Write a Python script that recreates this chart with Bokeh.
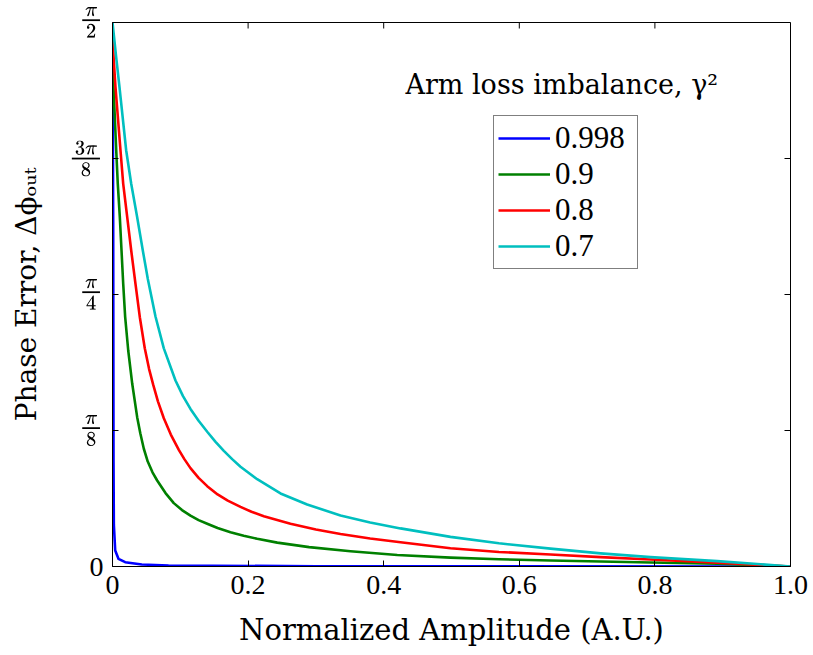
import math
from bokeh.plotting import figure
from bokeh.models import Range1d, FixedTicker, Label, TeX
from bokeh.embed import file_html
from bokeh.resources import INLINE

PI = math.pi

# ---- data (x: normalized amplitude, y: phase error in rad) ----
amp_0998 = [0.0, 0.001, 0.0015, 0.002, 0.004, 0.0088, 0.0187, 0.0432, 0.0826, 0.3, 1.0]
phase_0998 = [1.5708, 1.0, 0.30, 0.12, 0.0462, 0.0222, 0.0124, 0.0058, 0.0029, 0.0008, 0.0]

amp_09 = [0.0, 0.0015, 0.0055, 0.0078, 0.0108, 0.0133, 0.0158, 0.0187, 0.0232, 0.0291,
          0.0364, 0.041, 0.0462, 0.052, 0.059, 0.0659, 0.0782, 0.0904, 0.1025, 0.115,
          0.127, 0.1397, 0.155, 0.174, 0.1935, 0.2134, 0.243, 0.29, 0.351, 0.42,
          0.4985, 0.57, 0.646, 0.72, 0.7935, 0.892, 1.0]
phase_09 = [1.55, 1.384, 1.2012, 1.105, 1.0087, 0.9125, 0.8162, 0.7199, 0.6237, 0.5275,
            0.4312, 0.385, 0.340, 0.303, 0.272, 0.2483, 0.212, 0.183, 0.163, 0.147,
            0.134, 0.1233, 0.111, 0.099, 0.089, 0.080, 0.069, 0.056, 0.044, 0.033,
            0.0255, 0.021, 0.0173, 0.0145, 0.0116, 0.0078, 0.0]

amp_08 = [0.0, 0.0044, 0.0118, 0.0158, 0.0217, 0.0276, 0.0339, 0.0403, 0.0476, 0.054,
          0.060, 0.067, 0.0757, 0.086, 0.0978, 0.106, 0.115, 0.127, 0.1397, 0.155,
          0.17, 0.1888, 0.205, 0.2232, 0.2625, 0.30, 0.3363, 0.38, 0.4248, 0.4985,
          0.57, 0.646, 0.72, 0.7935, 0.892, 1.0]
phase_08 = [1.519, 1.384, 1.2012, 1.105, 1.0087, 0.9125, 0.8162, 0.7199, 0.630, 0.57,
            0.525, 0.477, 0.428, 0.381, 0.337, 0.310, 0.284, 0.256, 0.232, 0.208,
            0.190, 0.172, 0.158, 0.145, 0.1235, 0.107, 0.094, 0.081, 0.070, 0.0525,
            0.042, 0.0347, 0.027, 0.0202, 0.0107, 0.0]

amp_07 = [0.0, 0.005, 0.0103, 0.0202, 0.0276, 0.0364, 0.0447, 0.0521, 0.0634, 0.0757,
          0.0929, 0.104, 0.115, 0.127, 0.1397, 0.152, 0.1642, 0.1765, 0.1888, 0.2134,
          0.2478, 0.2871, 0.3363, 0.38, 0.4248, 0.4985, 0.57, 0.646, 0.72, 0.7935,
          0.892, 1.0]
phase_07 = [1.5708, 1.478, 1.384, 1.2012, 1.105, 1.0087, 0.9125, 0.830, 0.722, 0.630,
            0.537, 0.492, 0.455, 0.421, 0.389, 0.360, 0.334, 0.310, 0.288, 0.252,
            0.211, 0.179, 0.1473, 0.127, 0.110, 0.0855, 0.067, 0.0515, 0.038, 0.027,
            0.0155, 0.0]

series_labels = ["0.998", "0.9", "0.8", "0.7"]
series_colors = ["#0000ff", "#008000", "#ff0000", "#00bfbf"]

x_ticks = [0.0, 0.2, 0.4, 0.6, 0.8, 1.0]
x_tick_labels = ["0", "0.2", "0.4", "0.6", "0.8", "1.0"]
y_ticks = [0.0, PI / 8, PI / 4, 3 * PI / 8, PI / 2]
y_tick_tex = [None, r"\tfrac{\pi}{8}", r"\tfrac{\pi}{4}", r"\tfrac{3\pi}{8}", r"\tfrac{\pi}{2}"]

title_text = "Arm loss imbalance, γ²"
x_label = "Normalized Amplitude (A.U.)"
y_label = "Phase Error, Δϕₒᵤₜ"

TEXT_FONT = "DejaVu Serif"
NUM_FONT = "Liberation Serif"

X0, X1 = 0.0, 1.0
Y0, Y1 = 0.0, PI / 2
FRAME_W, FRAME_H = 678, 544
TICK_PX = 6

p = figure(width=813, height=655, output_backend="svg", toolbar_location=None,
           x_range=Range1d(X0, X1), y_range=Range1d(Y0, Y1),
           min_border_left=112, min_border_right=23, min_border_top=22, min_border_bottom=89)
p.background_fill_color = "white"
p.border_fill_color = "white"
p.outline_line_color = "black"
p.outline_line_width = 1
p.xgrid.visible = False
p.ygrid.visible = False

xs = [amp_0998, amp_09, amp_08, amp_07]
ys = [phase_0998, phase_09, phase_08, phase_07]
for xv, yv, lab, col in zip(xs, ys, series_labels, series_colors):
    p.line(xv, yv, line_color=col, line_width=2.6, line_join="round", legend_label=lab)

# mirrored inward ticks on the top and right edges, derived from the tick arrays
dy = TICK_PX * (Y1 - Y0) / FRAME_H
dx = TICK_PX * (X1 - X0) / FRAME_W
p.segment(x0=x_ticks, y0=[Y1] * len(x_ticks), x1=x_ticks, y1=[Y1 - dy] * len(x_ticks),
          line_color="black", line_width=1)
p.segment(x0=[X1] * len(y_ticks), y0=y_ticks, x1=[X1 - dx] * len(y_ticks), y1=y_ticks,
          line_color="black", line_width=1)

# axes
xax = p.xaxis[0]
xax.ticker = FixedTicker(ticks=x_ticks)
xax.major_label_overrides = {t: l for t, l in zip(x_ticks, x_tick_labels)}
yax = p.yaxis[0]
yax.ticker = FixedTicker(ticks=y_ticks)
yax.major_label_overrides = {t: (TeX(text=l, inline=True) if l else "0") for t, l in zip(y_ticks, y_tick_tex)}

for ax in (xax, yax):
    ax.major_tick_in = TICK_PX
    ax.major_tick_out = 0
    ax.minor_tick_in = 0
    ax.minor_tick_out = 0
    ax.axis_line_color = "black"
    ax.major_tick_line_color = "black"
    ax.major_label_text_font = NUM_FONT
    ax.major_label_text_font_size = "28px"
    ax.major_label_text_color = "black"
    ax.axis_label_text_font = TEXT_FONT
    ax.axis_label_text_font_size = "28px"
    ax.axis_label_text_font_style = "normal"
    ax.axis_label_text_color = "black"

xax.axis_label = x_label
xax.axis_label_text_font_size = "29px"
xax.major_label_standoff = 9
xax.axis_label_standoff = 16
yax.axis_label = y_label
yax.major_label_standoff = 9
yax.axis_label_standoff = 22

# legend
lg = p.legend[0]
lg.location = (381, 297)
lg.border_line_color = "black"
lg.border_line_width = 1
lg.background_fill_alpha = 1
lg.label_text_font = NUM_FONT
lg.label_text_font_size = "31px"
lg.label_text_color = "black"
lg.glyph_width = 52
lg.glyph_height = 36
lg.label_height = 36
lg.label_width = 78
lg.spacing = 0
lg.padding = 4
lg.margin = 0
lg.label_standoff = 5

p.add_layout(Label(x=0.432, y=1.392, text=title_text, text_font=TEXT_FONT,
                   text_font_size="27px", text_color="black", text_baseline="alphabetic"))

open("out.html", "w").write(file_html(p, INLINE))
